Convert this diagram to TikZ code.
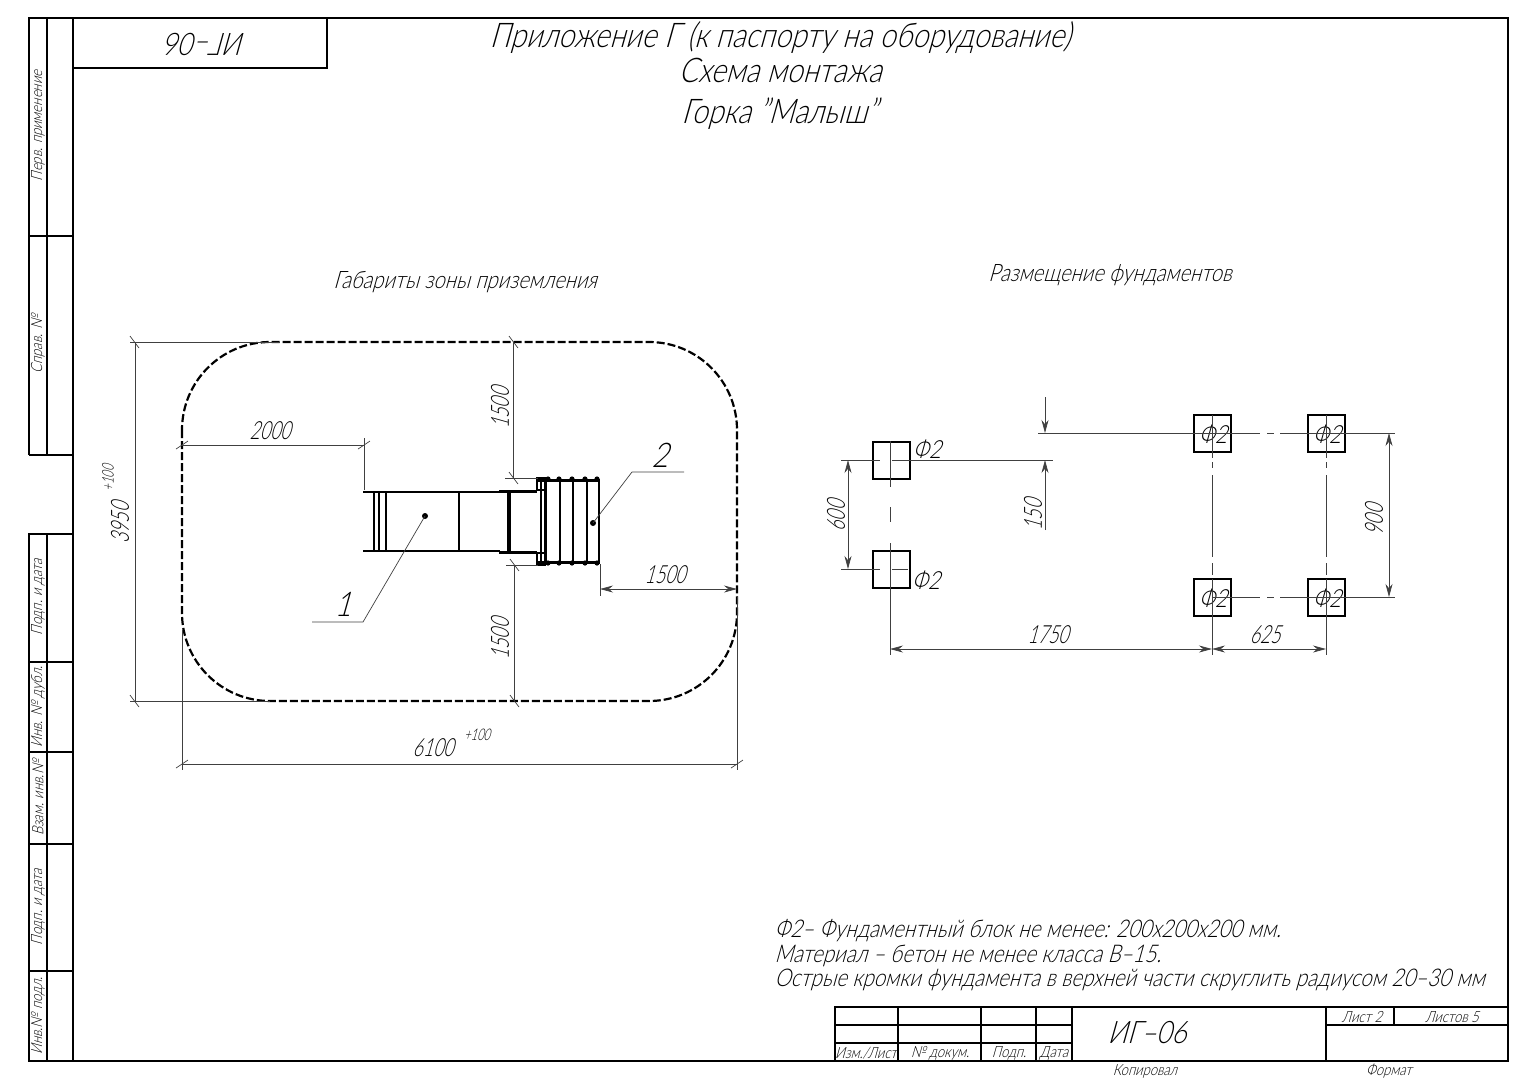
\documentclass[tikz,border=0pt]{standalone}
\usepackage{fontspec}
\setmainfont{Lato}[UprightFont=* Light,FakeSlant=0.28,FakeStretch=0.84]
\newfontfamily\dimfont{Lato}[UprightFont=* Light,FakeSlant=0.28,FakeStretch=0.7]
\usetikzlibrary{arrows.meta}
\tikzset{
    frameline/.style={line width=1.8pt, black},
    platethin/.style={line width=1.1pt, black},
    partline/.style={line width=2pt, black},
    railline/.style={line width=3pt, black},
    zoneline/.style={line width=2.2pt, black, dash pattern=on 8pt off 3pt},
    dimline/.style={line width=0.7pt, black!75},
    blockbox/.style={draw, line width=2pt, minimum width=37pt, minimum height=37pt, inner sep=0pt},
    bigtext/.style={font=\fontsize{34}{34}\selectfont},
    midtext/.style={font=\fontsize{24}{24}\selectfont},
    codetext/.style={font=\fontsize{31}{31}\selectfont},
    dimtext/.style={font=\dimfont\fontsize{25}{25}\selectfont},
    marktext/.style={font=\fontsize{25}{25}\selectfont},
    notetext/.style={font=\fontsize{24.4}{25}\selectfont, anchor=west},
    smalltext/.style={font=\fontsize{15.5}{16}\selectfont},
    tinytext/.style={font=\dimfont\fontsize{16}{16}\selectfont},
}
\begin{document}
\begin{tikzpicture}[x=1pt, y=-1pt, >={Stealth[length=13pt, width=7pt]}]
        \useasboundingbox (0, 0) rectangle (1527, 1080);

        % sheet frame
        \draw[frameline] (73, 18) -- (1508, 18) -- (1508, 1061) -- (29, 1061) -- (29, 534) -- (73, 534);
        \draw[frameline] (29, 455) -- (29, 18) -- (73, 18);
        \draw[frameline] (73, 18) -- (73, 1061);
        \draw[frameline] (47, 18) -- (47, 455);
        \draw[frameline] (47, 534) -- (47, 1061);
        \draw[frameline] (29, 236) -- (73, 236);
        \draw[frameline] (29, 455) -- (73, 455);
        \draw[platethin] (29, 662) -- (73, 662);
        \draw[platethin] (29, 752) -- (73, 752);
        \draw[frameline] (29, 844) -- (73, 844);
        \draw[platethin] (29, 971) -- (73, 971);
        \draw[frameline] (73, 68) -- (327, 68) -- (327, 18);

        \node[smalltext, rotate=90] (perv) at (38, 126) {Перв. применение};
        \node[smalltext, rotate=90] (sprav) at (38, 344) {Справ. №};
        \node[smalltext, rotate=90] (podpa) at (38, 597) {Подп. и дата};
        \node[smalltext, rotate=90] (dubl) at (38, 707) {Инв. № дубл.};
        \node[smalltext, rotate=90] (vzam) at (38, 798) {Взам. инв.№};
        \node[smalltext, rotate=90] (podpb) at (38, 907) {Подп. и дата};
        \node[smalltext, rotate=90] (podl) at (38, 1016) {Инв.№ подл.};
        \node[codetext, rotate=180] (codeup) at (207, 44) {ИГ--06};

        % title block
        \draw[frameline] (835, 1061) -- (835, 1007) -- (1508, 1007);
        \draw[frameline] (898, 1007) -- (898, 1061);
        \draw[frameline] (981, 1007) -- (981, 1061);
        \draw[frameline] (1036, 1007) -- (1036, 1061);
        \draw[frameline] (1072, 1007) -- (1072, 1061);
        \draw[frameline] (1326, 1007) -- (1326, 1061);
        \draw[platethin] (835, 1025) -- (1072, 1025);
        \draw[frameline] (835, 1043) -- (1072, 1043);
        \draw[frameline] (1326, 1025) -- (1508, 1025);
        \draw[platethin] (1394, 1007) -- (1394, 1025);

        \node[smalltext] (izm) at (866, 1053) {Изм./Лист};
        \node[smalltext] (dokum) at (940, 1053) {№ докум.};
        \node[smalltext] (podpis) at (1009, 1053) {Подп.};
        \node[smalltext] (datum) at (1054, 1053) {Дата};
        \node[codetext] (code) at (1147, 1033) {ИГ--06};
        \node[smalltext] (list) at (1362, 1017) {Лист 2};
        \node[smalltext] (listov) at (1452, 1017) {Листов 5};
        \node[smalltext] (copied) at (1145, 1071) {Копировал};
        \node[smalltext] (format) at (1389, 1071) {Формат};

        % headings
        \node[bigtext] (title) at (780, 38) {Приложение Г (к паспорту на оборудование)};
        \node[bigtext] (scheme) at (780, 70) {Схема монтажа};
        \node[bigtext] (slide) at (779, 114) {Горка "Малыш"};
        \node[midtext] (zonehead) at (465, 282) {Габариты зоны приземления};
        \node[midtext] (basehead) at (1110, 275) {Размещение фундаментов};

        % landing zone
        \draw[zoneline, rounded corners=88pt] (182, 342) rectangle (737, 701);

        % slide
        \draw[partline, line width=2.4pt] (363, 492) -- (500, 492);
        \draw[partline, line width=2.4pt] (363, 551) -- (500, 551);
        \draw[railline] (499, 491) -- (537, 491);
        \draw[railline] (499, 552) -- (537, 552);
        \draw[partline] (374, 492) -- (374, 551);
        \draw[line width=1.2pt] (379, 492) -- (379, 551);
        \draw[line width=1.2pt] (386, 492) -- (386, 551);
        \draw[line width=1.2pt] (459, 492) -- (459, 551);
        \draw[line width=4.5pt] (509, 491) -- (509, 552);
        \draw[line width=1.2pt] (541, 479) -- (541, 564);
        \draw[railline] (545, 479) -- (545, 563);
        \draw[railline] (537, 480) -- (600, 480);
        \draw[railline] (537, 562) -- (600, 562);
        \draw[partline] (560, 480) -- (560, 562);
        \draw[partline] (573, 480) -- (573, 562);
        \draw[partline] (587, 480) -- (587, 562);
        \draw[line width=1.2pt] (599, 480) -- (599, 562);
        \draw[partline] (537, 478) rectangle (545, 490);
        \draw[partline] (537, 553) rectangle (545, 565);
        \fill (548, 479) circle (2.6) (559, 479) circle (2.6) (572, 479) circle (2.6) (585, 479) circle (2.6) (597, 479) circle (2.6);
        \fill (548, 563) circle (2.6) (559, 563) circle (2.6) (572, 563) circle (2.6) (585, 563) circle (2.6) (597, 563) circle (2.6);

        % leaders
        \coordinate (dotone) at (425, 516);
        \coordinate (kneeone) at (363, 622);
        \coordinate (endone) at (312, 622);
        \coordinate (dottwo) at (593, 523);
        \coordinate (kneetwo) at (632, 472);
        \coordinate (endtwo) at (684, 472);
        \fill (dotone) circle (3);
        \fill (dottwo) circle (3);
        \draw[dimline] (dotone) -- (kneeone) -- (endone);
        \draw[dimline] (dottwo) -- (kneetwo) -- (endtwo);
        \node[bigtext] (posone) at (343, 604) {1};
        \node[bigtext] (postwo) at (660, 455) {2};

        % landing zone dimensions
        \draw[dimline] (130, 342) -- (280, 342);
        \draw[dimline] (130, 701) -- (270, 701);
        \draw[dimline] (135, 342) -- (135, 701);
        \draw[dimline] (130, 336) -- (139, 348);
        \draw[dimline] (130, 695) -- (139, 707);
        \node[dimtext, rotate=90] (height) at (120, 523) {3950};
        \node[tinytext, rotate=90] (heighttol) at (108, 478) {+100};

        \draw[dimline] (182, 630) -- (182, 770);
        \draw[dimline] (737, 596) -- (737, 770);
        \draw[dimline] (182, 764) -- (737, 764);
        \draw[dimline] (176, 768) -- (188, 760);
        \draw[dimline] (731, 768) -- (743, 760);
        \node[dimtext] (width) at (433, 748) {6100};
        \node[tinytext] (widthtol) at (477, 735) {+100};

        \draw[dimline] (182, 445) -- (364, 445);
        \draw[dimline] (364, 438) -- (364, 490);
        \draw[dimline] (176, 449) -- (188, 441);
        \draw[dimline] (358, 449) -- (370, 441);
        \node[dimtext] (offleft) at (270, 431) {2000};

        \draw[dimline] (513, 342) -- (513, 478);
        \draw[dimline] (505, 478) -- (538, 478);
        \draw[dimline] (509, 336) -- (518, 348);
        \draw[dimline] (509, 472) -- (518, 484);
        \node[dimtext, rotate=90] (offtop) at (500, 408) {1500};

        \draw[dimline] (514, 565) -- (514, 701);
        \draw[dimline] (506, 565) -- (538, 565);
        \draw[dimline] (510, 559) -- (519, 571);
        \draw[dimline] (510, 695) -- (519, 707);
        \node[dimtext, rotate=90] (offbot) at (500, 639) {1500};

        \draw[dimline] (600, 564) -- (600, 596);
        \draw[dimline, <->] (600, 589) -- (737, 589);
        \node[dimtext] (offright) at (665, 575) {1500};

        % foundation blocks
        \node[blockbox] (blockA) at (891, 460) {};
        \node[blockbox] (blockB) at (891, 569) {};
        \node[blockbox] (blockC) at (1212, 433) {};
        \node[blockbox] (blockD) at (1326, 433) {};
        \node[blockbox] (blockE) at (1212, 597) {};
        \node[blockbox] (blockF) at (1326, 597) {};
        \node[marktext] (markA) at (927, 449) {Ф2};
        \node[marktext] (markB) at (926, 580) {Ф2};
        \node[marktext] (markC) at (1213, 434) {Ф2};
        \node[marktext] (markD) at (1327, 434) {Ф2};
        \node[marktext] (markE) at (1213, 598) {Ф2};
        \node[marktext] (markF) at (1327, 598) {Ф2};

        % centre lines
        \draw[dimline] (890, 441) -- (890, 487);
        \draw[dimline] (890, 507) -- (890, 522);
        \draw[dimline] (890, 543) -- (890, 655);
        \draw[dimline] (841, 460) -- (880, 460);
        \draw[dimline] (892, 460) -- (1053, 460);
        \draw[dimline] (841, 569) -- (880, 569);
        \draw[dimline] (892, 569) -- (908, 569);
        \draw[dimline] (1212, 415) -- (1212, 458);
        \draw[dimline] (1212, 462) -- (1212, 468);
        \draw[dimline] (1212, 475) -- (1212, 557);
        \draw[dimline] (1212, 563) -- (1212, 575);
        \draw[dimline] (1212, 579) -- (1212, 655);
        \draw[dimline] (1326, 415) -- (1326, 458);
        \draw[dimline] (1326, 462) -- (1326, 468);
        \draw[dimline] (1326, 475) -- (1326, 557);
        \draw[dimline] (1326, 563) -- (1326, 575);
        \draw[dimline] (1326, 579) -- (1326, 655);
        \draw[dimline] (1038, 433) -- (1260, 433);
        \draw[dimline] (1267, 433) -- (1274, 433);
        \draw[dimline] (1280, 433) -- (1395, 433);
        \draw[dimline] (1212, 597) -- (1260, 597);
        \draw[dimline] (1267, 597) -- (1274, 597);
        \draw[dimline] (1280, 597) -- (1395, 597);

        % foundation dimensions
        \draw[dimline, <->] (848, 460) -- (848, 569);
        \node[dimtext, rotate=90] (spacing) at (836, 516) {600};
        \draw[dimline, ->] (1045, 397) -- (1045, 433);
        \draw[dimline, ->] (1045, 530) -- (1045, 460);
        \node[dimtext, rotate=90] (shift) at (1033, 515) {150};
        \draw[dimline, <->] (1389, 433) -- (1389, 597);
        \node[dimtext, rotate=90] (depth) at (1374, 520) {900};
        \draw[dimline, <->] (890, 649) -- (1212, 649);
        \node[dimtext] (long) at (1048, 635) {1750};
        \draw[dimline, <->] (1212, 649) -- (1326, 649);
        \node[dimtext] (short) at (1265, 635) {625};

        % notes
        \node[notetext] (noteA) at (771, 931) {Ф2-- Фундаментный блок не менее: 200х200х200 мм.};
        \node[notetext] (noteB) at (771, 956) {Материал -- бетон не менее класса В--15.};
        \node[notetext] (noteC) at (771, 980) {Острые кромки фундамента в верхней части скруглить радиусом 20--30 мм};
\end{tikzpicture}
\end{document}
